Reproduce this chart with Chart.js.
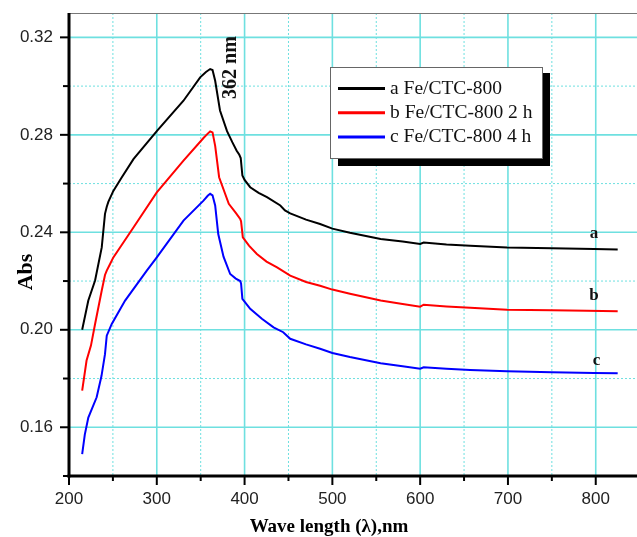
<!DOCTYPE html>
<html>
<head>
<meta charset="utf-8">
<script src="https://cdn.jsdelivr.net/npm/chart.js@4/dist/chart.umd.min.js"></script>
<style>
  html, body { margin: 0; padding: 0; background: #fff; }
  canvas { display: block; }
</style>
</head>
<body>
<canvas id="absChart" width="637" height="537"></canvas>
<script>
// series names / colours
const seriesLabels = ['a Fe/CTC-800', 'b Fe/CTC-800 2 h', 'c Fe/CTC-800 4 h'];
const seriesColors = ['#000000', '#ff0000', '#0000ff'];

// curve a
const waveA = [215, 222, 229.7, 237.3, 241, 243, 244.8, 250.5, 260, 273.4,
  300, 330.4, 349.4, 356, 360.8, 363.5, 366.5, 372, 380, 386,
  391, 394, 395.6, 397.5, 400, 406.4, 416, 425.5, 440.7, 446,
  452, 470, 486, 500, 520, 555, 580, 600, 604, 630,
  657, 699, 750, 798, 825];
const absA = [0.200, 0.212, 0.2202, 0.2338, 0.2476, 0.2505, 0.2525, 0.2570, 0.2625, 0.2700,
  0.2815, 0.2940, 0.3036, 0.3058, 0.3070, 0.3066, 0.3022, 0.2900, 0.2815, 0.2770,
  0.2735, 0.2718, 0.2705, 0.2633, 0.2615, 0.2585, 0.2562, 0.2544, 0.2510, 0.2490,
  0.2478, 0.2452, 0.2434, 0.2415, 0.2398, 0.2373, 0.2362, 0.2352, 0.2358, 0.2350,
  0.2345, 0.2338, 0.2335, 0.2332, 0.2329];

// curve b
const waveB = [215, 220, 225, 229.7, 237.3, 241, 243, 246.8, 250.5, 273.4,
  300, 330.4, 353.2, 358, 360.8, 363.5, 366.5, 371, 382, 390,
  395, 396, 398, 405, 414, 425, 437, 452, 470, 486,
  500, 520, 555, 580, 600, 604, 630, 657, 699, 750,
  790, 825];
const absB = [0.175, 0.1874, 0.1935, 0.2024, 0.2161, 0.2225, 0.2243, 0.2270, 0.2297, 0.2420,
  0.2564, 0.2694, 0.2787, 0.2805, 0.2814, 0.2810, 0.2755, 0.2626, 0.2517, 0.2480,
  0.2455, 0.2445, 0.2379, 0.2345, 0.2311, 0.2280, 0.2256, 0.2222, 0.2196, 0.2181,
  0.2165, 0.2148, 0.2120, 0.2106, 0.2095, 0.2103, 0.2096, 0.2090, 0.2082, 0.2080,
  0.2078, 0.2076];

// curve c
const waveC = [215, 218, 222, 231.5, 237, 241, 243, 248.7, 263.9, 288.6,
  300, 330.4, 353.2, 358, 360.8, 363.5, 366.5, 370, 376, 383.6,
  390, 395, 396, 397.5, 406.4, 419.7, 433, 444, 452, 470,
  486, 500, 520, 555, 580, 600, 604, 630, 657, 699,
  750, 798, 825];
const absC = [0.149, 0.157, 0.164, 0.1723, 0.181, 0.190, 0.1976, 0.2024, 0.2120, 0.2243,
  0.2297, 0.2448, 0.2530, 0.2550, 0.2558, 0.2552, 0.2510, 0.2393, 0.2300, 0.2229,
  0.2210, 0.2200, 0.2190, 0.2127, 0.2086, 0.2045, 0.2010, 0.1990, 0.1963, 0.1940,
  0.1922, 0.1905, 0.1888, 0.1863, 0.1850, 0.1840, 0.1846, 0.1840, 0.1835, 0.1830,
  0.1826, 0.1823, 0.1822];

// curve tags and peak note (data coords)
const curveTags = ['a', 'b', 'c'];
const tagWave = [798, 798, 801];
const tagAbs = [0.2393, 0.2140, 0.1874];
const peakNote = '362 nm';
const peakWave = 384;
const peakAbs = 0.3076;

const xMajor = v => Math.round(v) % 100 === 0;
const yMajor = v => Math.round(v * 100) % 4 === 0;
const gridCyan = '#6ee0e0';

const toPoints = (xs, ys) => xs.map((x, i) => ({ x: x, y: ys[i] }));
const allWaves = [waveA, waveB, waveC];
const allAbs = [absA, absB, absC];

function line(ctx, x1, y1, x2, y2) {
  ctx.beginPath();
  ctx.moveTo(x1, y1);
  ctx.lineTo(x2, y2);
  ctx.stroke();
}

// grid, axes and tick marks
const frame = {
  id: 'frame',
  beforeDatasetsDraw(chart) {
    const { ctx, chartArea: ca, scales: { x, y } } = chart;
    ctx.save();
    ctx.strokeStyle = gridCyan;
    x.ticks.forEach(t => {
      const px = x.getPixelForValue(t.value);
      if (xMajor(t.value)) { ctx.setLineDash([]); ctx.lineWidth = 1.6; }
      else { ctx.setLineDash([2, 2]); ctx.lineWidth = 1; }
      line(ctx, px, ca.top, px, ca.bottom);
    });
    y.ticks.forEach(t => {
      const py = y.getPixelForValue(t.value);
      if (yMajor(t.value)) { ctx.setLineDash([]); ctx.lineWidth = 1.6; }
      else { ctx.setLineDash([2, 2]); ctx.lineWidth = 1; }
      line(ctx, ca.left, py, ca.right, py);
    });
    ctx.setLineDash([]);

    // top frame line
    ctx.strokeStyle = '#777';
    ctx.lineWidth = 1;
    line(ctx, ca.left, ca.top + 0.5, ca.right, ca.top + 0.5);

    // axes
    ctx.strokeStyle = '#000';
    ctx.lineWidth = 3;
    line(ctx, ca.left, ca.top, ca.left, ca.bottom + 1.5);
    line(ctx, ca.left - 1.5, ca.bottom, ca.right, ca.bottom);

    // tick marks
    ctx.lineWidth = 2;
    x.ticks.forEach(t => {
      const px = x.getPixelForValue(t.value);
      line(ctx, px, ca.bottom, px, ca.bottom + (xMajor(t.value) ? 9 : 5));
    });
    y.ticks.forEach(t => {
      const py = y.getPixelForValue(t.value);
      line(ctx, ca.left, py, ca.left - (yMajor(t.value) ? 9 : 6), py);
    });
    ctx.restore();
  }
};

// legend, tags, titles
const extras = {
  id: 'extras',
  afterDraw(chart) {
    const { ctx, scales: { x, y } } = chart;
    ctx.save();
    ctx.fillStyle = '#000';
    ctx.fillRect(338, 73, 212, 93);
    ctx.fillStyle = '#fff';
    ctx.fillRect(330, 67, 213, 92);
    ctx.strokeStyle = '#666';
    ctx.lineWidth = 1;
    ctx.strokeRect(330.5, 67.5, 212, 91);
    ctx.font = '19.5px "Liberation Serif", "Times New Roman", serif';
    ctx.textBaseline = 'middle';
    ctx.textAlign = 'left';
    chart.data.datasets.forEach((ds, i) => {
      const ly = 88.5 + i * 24.2;
      ctx.strokeStyle = ds.borderColor;
      ctx.lineWidth = 3;
      line(ctx, 338, ly, 385, ly);
      ctx.fillStyle = '#111';
      ctx.fillText(ds.label, 390, ly);
    });

    ctx.fillStyle = '#111';
    ctx.font = 'bold 17px "Liberation Serif", "Times New Roman", serif';
    ctx.textAlign = 'center';
    curveTags.forEach((tag, i) => {
      ctx.fillText(tag, x.getPixelForValue(tagWave[i]), y.getPixelForValue(tagAbs[i]));
    });

    ctx.save();
    ctx.translate(x.getPixelForValue(peakWave), y.getPixelForValue(peakAbs));
    ctx.rotate(-Math.PI / 2);
    ctx.font = 'bold 20px "Liberation Serif", "Times New Roman", serif';
    ctx.fillText(peakNote, 0, 0);
    ctx.restore();

    ctx.fillStyle = '#000';
    ctx.font = 'bold 22px "Liberation Serif", "Times New Roman", serif';
    ctx.save();
    ctx.translate(26, 272);
    ctx.rotate(-Math.PI / 2);
    ctx.fillText('Abs', 0, 0);
    ctx.restore();
    ctx.font = 'bold 19px "Liberation Serif", "Times New Roman", serif';
    ctx.fillText('Wave length (\u03bb),nm', 329, 527);
    ctx.restore();
  }
};

const chart = new Chart(document.getElementById('absChart').getContext('2d'), {
  type: 'line',
  data: {
    datasets: seriesLabels.map((label, i) => ({
      label: label,
      data: toPoints(allWaves[i], allAbs[i]),
      borderColor: seriesColors[i],
      backgroundColor: seriesColors[i],
      borderWidth: 2,
      pointRadius: 0,
      tension: 0,
      fill: false
    }))
  },
  options: {
    responsive: false,
    animation: false,
    layout: { padding: { top: 13, right: 0, left: 0, bottom: 0 } },
    plugins: {
      legend: { display: false },
      tooltip: { enabled: false }
    },
    scales: {
      x: {
        type: 'linear',
        min: 200,
        max: 847,
        afterFit: s => { s.height = 61; s.paddingLeft = 0; s.paddingRight = 0; },
        ticks: {
          stepSize: 50,
          includeBounds: false,
          autoSkip: false,
          maxRotation: 0,
          padding: 4,
          color: '#222',
          font: { family: '"Liberation Sans", Arial, sans-serif', size: 17 },
          callback: v => xMajor(v) ? String(Math.round(v)) : ''
        },
        grid: { drawOnChartArea: false, tickLength: 9, tickColor: 'rgba(0,0,0,0)' },
        border: { display: false }
      },
      y: {
        min: 0.14,
        max: 0.33,
        afterFit: s => { s.width = 69; s.paddingTop = 0; s.paddingBottom = 0; },
        ticks: {
          stepSize: 0.02,
          includeBounds: false,
          autoSkip: false,
          padding: 7,
          color: '#222',
          font: { family: '"Liberation Sans", Arial, sans-serif', size: 17 },
          callback: v => yMajor(v) ? v.toFixed(2) : ''
        },
        grid: { drawOnChartArea: false, tickLength: 9, tickColor: 'rgba(0,0,0,0)' },
        border: { display: false }
      }
    }
  },
  plugins: [frame, extras]
});
</script>
</body>
</html>
